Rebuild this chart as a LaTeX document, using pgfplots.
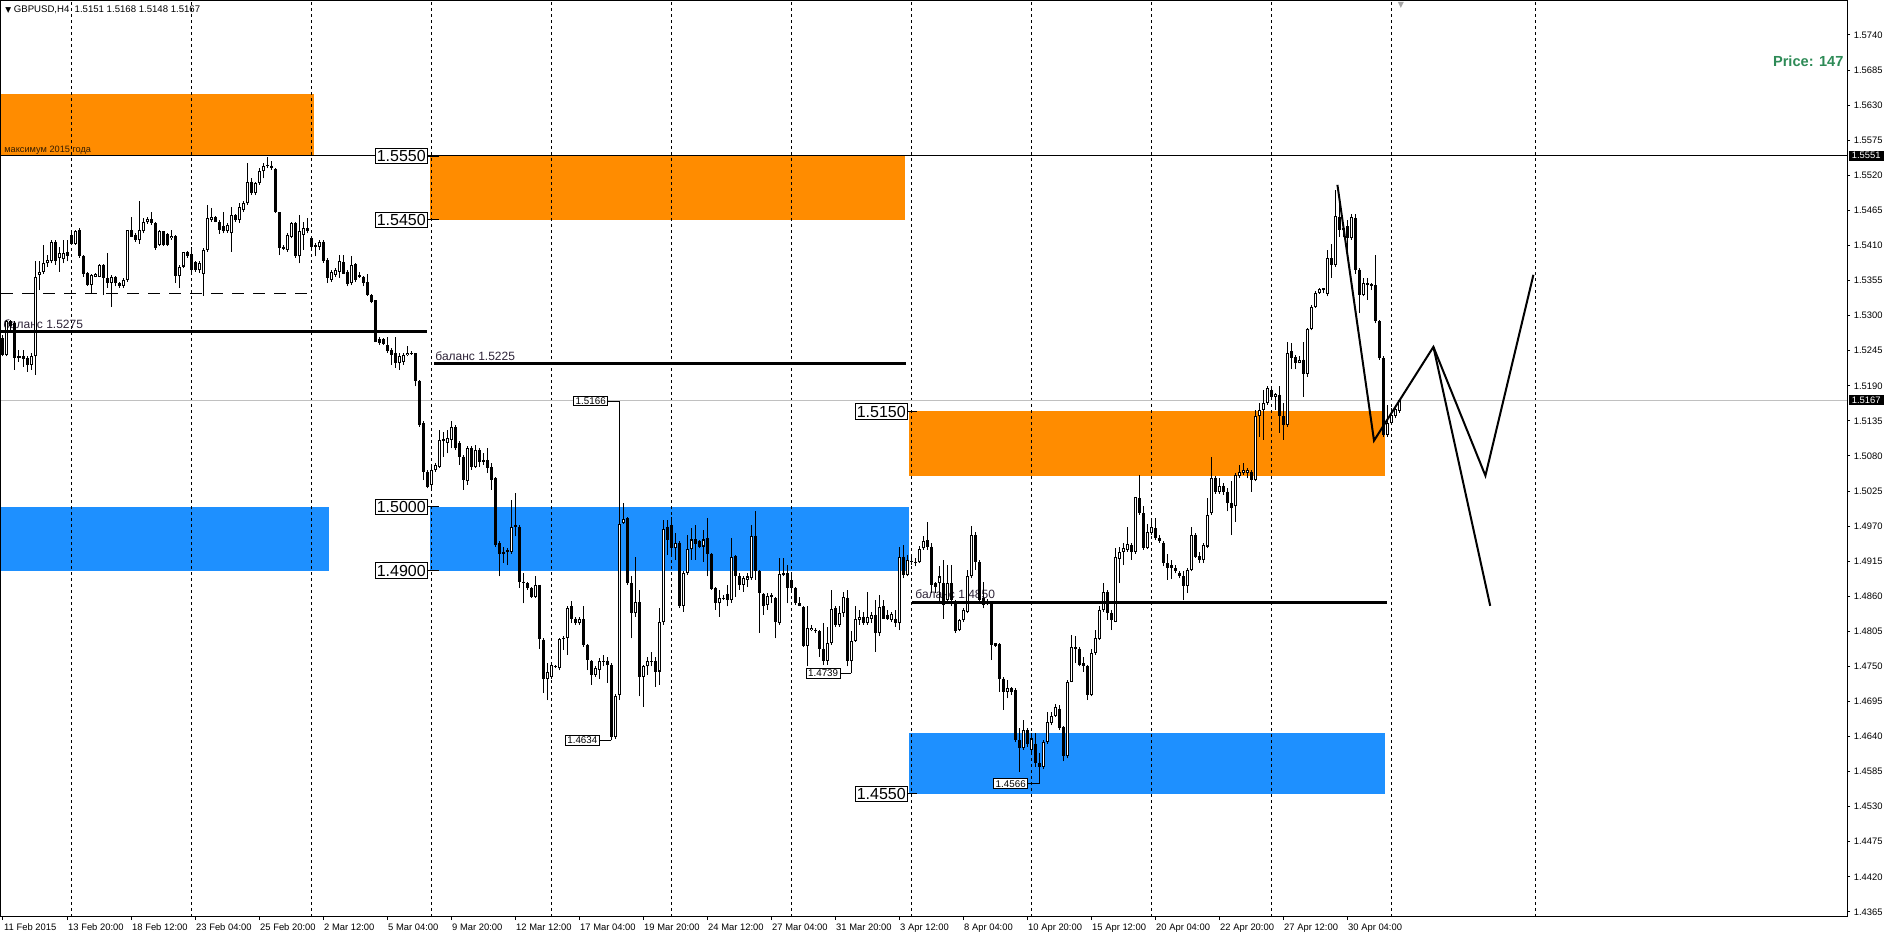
\documentclass[border=0pt]{standalone}
\usepackage{fontspec}
\setmainfont{Liberation Sans}
\newfontfamily\dejavu{DejaVu Sans}
\usepackage{pgfplots}
\usepackage{pgfplotstable}
\pgfplotsset{compat=1.18}
\definecolor{zoneorange}{RGB}{255,140,0}
\definecolor{zoneblue}{RGB}{30,144,255}
\definecolor{pricegreen}{RGB}{46,139,87}
\definecolor{baltext}{RGB}{45,35,55}
\definecolor{curgray}{RGB}{192,192,192}

\pgfplotstableread{
k o h l c
1 1.5265 1.5270 1.5236 1.5238
2 1.5238 1.5293 1.5236 1.5291
3 1.5291 1.5293 1.5275 1.5283
4 1.5288 1.5291 1.5215 1.5233
5 1.5233 1.5246 1.5228 1.5236
6 1.5236 1.5246 1.5220 1.5232
7 1.5233 1.5236 1.5212 1.5223
8 1.5223 1.5241 1.5215 1.5236
9 1.5236 1.5385 1.5207 1.5361
10 1.5364 1.5385 1.5340 1.5369
11 1.5369 1.5411 1.5366 1.5382
12 1.5382 1.5395 1.5377 1.5387
13 1.5385 1.5419 1.5382 1.5416
14 1.5416 1.5419 1.5380 1.5385
15 1.5390 1.5408 1.5369 1.5398
16 1.5388 1.5419 1.5382 1.5398
17 1.5400 1.5419 1.5385 1.5393
18 1.5427 1.5432 1.5412 1.5413
19 1.5413 1.5434 1.5411 1.5432
20 1.5434 1.5437 1.5391 1.5393
21 1.5394 1.5395 1.5361 1.5366
22 1.5367 1.5369 1.5347 1.5348
23 1.5348 1.5366 1.5335 1.5364
24 1.5361 1.5367 1.5360 1.5365
25 1.5361 1.5381 1.5360 1.5380
26 1.5380 1.5381 1.5332 1.5359
27 1.5359 1.5398 1.5343 1.5351
28 1.5351 1.5364 1.5314 1.5361
29 1.5361 1.5362 1.5346 1.5351
30 1.5351 1.5353 1.5343 1.5346
31 1.5347 1.5359 1.5343 1.5356
32 1.5356 1.5435 1.5353 1.5434
33 1.5434 1.5455 1.5423 1.5424
34 1.5427 1.5429 1.5416 1.5419
35 1.5419 1.5479 1.5413 1.5434
36 1.5432 1.5453 1.5429 1.5447
37 1.5446 1.5454 1.5444 1.5451
38 1.5451 1.5463 1.5442 1.5445
39 1.5445 1.5446 1.5403 1.5406
40 1.5411 1.5434 1.5409 1.5432
41 1.5432 1.5433 1.5409 1.5411
42 1.5428 1.5430 1.5409 1.5411
43 1.5421 1.5434 1.5419 1.5425
44 1.5425 1.5426 1.5351 1.5362
45 1.5362 1.5380 1.5343 1.5377
46 1.5377 1.5400 1.5374 1.5399
47 1.5399 1.5401 1.5391 1.5393
48 1.5396 1.5408 1.5366 1.5372
49 1.5384 1.5385 1.5369 1.5371
50 1.5371 1.5385 1.5367 1.5382
51 1.5365 1.5406 1.5331 1.5403
52 1.5403 1.5474 1.5400 1.5453
53 1.5450 1.5468 1.5447 1.5454
54 1.5454 1.5456 1.5446 1.5447
55 1.5447 1.5450 1.5428 1.5434
56 1.5440 1.5463 1.5429 1.5432
57 1.5432 1.5445 1.5430 1.5442
58 1.5429 1.5471 1.5400 1.5458
59 1.5458 1.5460 1.5447 1.5450
60 1.5450 1.5476 1.5445 1.5471
61 1.5466 1.5479 1.5463 1.5476
62 1.5476 1.5539 1.5474 1.5510
63 1.5510 1.5515 1.5489 1.5492
64 1.5492 1.5510 1.5489 1.5508
65 1.5508 1.5531 1.5505 1.5526
66 1.5526 1.5539 1.5515 1.5534
67 1.5534 1.5549 1.5531 1.5536
68 1.5535 1.5542 1.5529 1.5531
69 1.5530 1.5531 1.5461 1.5462
70 1.5462 1.5463 1.5395 1.5406
71 1.5408 1.5411 1.5403 1.5404
72 1.5403 1.5429 1.5400 1.5427
73 1.5424 1.5447 1.5421 1.5445
74 1.5445 1.5446 1.5391 1.5393
75 1.5393 1.5458 1.5382 1.5432
76 1.5427 1.5447 1.5403 1.5437
77 1.5437 1.5453 1.5429 1.5432
78 1.5421 1.5424 1.5406 1.5408
79 1.5411 1.5414 1.5393 1.5408
80 1.5408 1.5419 1.5403 1.5416
81 1.5416 1.5419 1.5383 1.5385
82 1.5387 1.5390 1.5351 1.5359
83 1.5356 1.5372 1.5353 1.5369
84 1.5364 1.5374 1.5361 1.5372
85 1.5369 1.5395 1.5359 1.5385
86 1.5384 1.5395 1.5365 1.5366
87 1.5369 1.5372 1.5346 1.5350
88 1.5351 1.5393 1.5348 1.5380
89 1.5381 1.5382 1.5353 1.5356
90 1.5364 1.5369 1.5359 1.5360
91 1.5361 1.5362 1.5346 1.5351
92 1.5352 1.5366 1.5331 1.5332
93 1.5332 1.5334 1.5319 1.5322
94 1.5324 1.5325 1.5258 1.5259
95 1.5263 1.5267 1.5254 1.5257
96 1.5263 1.5265 1.5254 1.5256
97 1.5254 1.5267 1.5241 1.5244
98 1.5246 1.5249 1.5223 1.5238
99 1.5241 1.5267 1.5218 1.5226
100 1.5226 1.5241 1.5215 1.5237
101 1.5228 1.5241 1.5223 1.5238
102 1.5238 1.5253 1.5236 1.5242
103 1.5241 1.5244 1.5239 1.5242
104 1.5241 1.5242 1.5189 1.5197
105 1.5198 1.5199 1.5126 1.5129
106 1.5131 1.5134 1.5042 1.5055
107 1.5055 1.5058 1.5029 1.5032
108 1.5035 1.5066 1.5027 1.5058
109 1.5058 1.5069 1.5055 1.5066
110 1.5063 1.5121 1.5061 1.5105
111 1.5103 1.5118 1.5079 1.5106
112 1.5101 1.5121 1.5084 1.5108
113 1.5105 1.5134 1.5092 1.5125
114 1.5125 1.5129 1.5089 1.5092
115 1.5100 1.5103 1.5066 1.5079
116 1.5079 1.5081 1.5027 1.5042
117 1.5040 1.5095 1.5035 1.5092
118 1.5092 1.5095 1.5058 1.5063
119 1.5063 1.5097 1.5061 1.5089
120 1.5089 1.5092 1.5063 1.5071
121 1.5071 1.5084 1.5066 1.5074
122 1.5073 1.5092 1.5053 1.5061
123 1.5063 1.5069 1.5027 1.5043
124 1.5045 1.5047 1.4938 1.4940
125 1.4943 1.4946 1.4891 1.4927
126 1.4930 1.4938 1.4912 1.4926
127 1.4930 1.4935 1.4909 1.4933
128 1.4930 1.5011 1.4927 1.4969
129 1.4972 1.5022 1.4954 1.4968
130 1.4969 1.4972 1.4873 1.4883
131 1.4883 1.4896 1.4849 1.4880
132 1.4880 1.4883 1.4870 1.4873
133 1.4873 1.4875 1.4857 1.4859
134 1.4859 1.4891 1.4857 1.4878
135 1.4878 1.4878 1.4778 1.4793
136 1.4792 1.4794 1.4708 1.4731
137 1.4731 1.4755 1.4697 1.4742
138 1.4734 1.4752 1.4731 1.4752
139 1.4751 1.4752 1.4747 1.4749
140 1.4747 1.4794 1.4744 1.4793
141 1.4793 1.4797 1.4776 1.4794
142 1.4794 1.4844 1.4768 1.4841
143 1.4844 1.4852 1.4818 1.4825
144 1.4825 1.4828 1.4815 1.4818
145 1.4818 1.4828 1.4815 1.4825
146 1.4824 1.4844 1.4781 1.4784
147 1.4784 1.4785 1.4744 1.4760
148 1.4759 1.4760 1.4721 1.4737
149 1.4737 1.4750 1.4734 1.4747
150 1.4744 1.4763 1.4731 1.4759
151 1.4759 1.4768 1.4750 1.4758
152 1.4759 1.4765 1.4724 1.4752
153 1.4752 1.4755 1.4634 1.4639
154 1.4639 1.4706 1.4636 1.4704
155 1.4705 1.5166 1.4697 1.4974
156 1.4975 1.5006 1.4974 1.4981
157 1.4982 1.4985 1.4878 1.4880
158 1.4881 1.4891 1.4794 1.4833
159 1.4833 1.4922 1.4828 1.4851
160 1.4851 1.4870 1.4703 1.4734
161 1.4734 1.4752 1.4687 1.4751
162 1.4750 1.4765 1.4737 1.4758
163 1.4757 1.4773 1.4750 1.4759
164 1.4759 1.4765 1.4718 1.4742
165 1.4742 1.4841 1.4721 1.4820
166 1.4819 1.4980 1.4815 1.4965
167 1.4969 1.4980 1.4925 1.4948
168 1.4972 1.4985 1.4925 1.4935
169 1.4935 1.4959 1.4917 1.4944
170 1.4944 1.4946 1.4841 1.4844
171 1.4845 1.4899 1.4836 1.4897
172 1.4897 1.4956 1.4893 1.4934
173 1.4934 1.4967 1.4917 1.4949
174 1.4949 1.4972 1.4917 1.4942
175 1.4946 1.4948 1.4935 1.4938
176 1.4938 1.4964 1.4914 1.4949
177 1.4951 1.4982 1.4891 1.4927
178 1.4927 1.4928 1.4870 1.4871
179 1.4873 1.4875 1.4839 1.4849
180 1.4849 1.4870 1.4828 1.4857
181 1.4857 1.4862 1.4854 1.4855
182 1.4864 1.4878 1.4844 1.4854
183 1.4854 1.4951 1.4850 1.4922
184 1.4923 1.4925 1.4859 1.4891
185 1.4892 1.4897 1.4870 1.4878
186 1.4878 1.4891 1.4867 1.4888
187 1.4886 1.4896 1.4875 1.4891
188 1.4888 1.4972 1.4886 1.4955
189 1.4955 1.4993 1.4886 1.4899
190 1.4899 1.4901 1.4803 1.4865
191 1.4864 1.4865 1.4831 1.4845
192 1.4846 1.4865 1.4839 1.4861
193 1.4859 1.4865 1.4849 1.4862
194 1.4857 1.4859 1.4794 1.4819
195 1.4818 1.4920 1.4815 1.4895
196 1.4893 1.4920 1.4891 1.4896
197 1.4896 1.4909 1.4849 1.4873
198 1.4885 1.4896 1.4870 1.4873
199 1.4873 1.4875 1.4846 1.4849
200 1.4849 1.4859 1.4844 1.4844
201 1.4843 1.4844 1.4781 1.4782
202 1.4782 1.4844 1.4750 1.4811
203 1.4807 1.4815 1.4805 1.4811
204 1.4805 1.4810 1.4802 1.4807
205 1.4805 1.4807 1.4765 1.4778
206 1.4778 1.4818 1.4752 1.4759
207 1.4759 1.4812 1.4752 1.4786
208 1.4786 1.4870 1.4784 1.4840
209 1.4841 1.4844 1.4812 1.4815
210 1.4815 1.4844 1.4812 1.4833
211 1.4833 1.4867 1.4828 1.4859
212 1.4858 1.4870 1.4750 1.4758
213 1.4758 1.4805 1.4739 1.4790
214 1.4790 1.4845 1.4789 1.4825
215 1.4823 1.4839 1.4815 1.4828
216 1.4828 1.4836 1.4815 1.4818
217 1.4818 1.4867 1.4815 1.4828
218 1.4825 1.4836 1.4818 1.4831
219 1.4831 1.4854 1.4773 1.4803
220 1.4803 1.4862 1.4797 1.4843
221 1.4844 1.4854 1.4824 1.4825
222 1.4831 1.4838 1.4823 1.4825
223 1.4823 1.4836 1.4820 1.4832
224 1.4825 1.4838 1.4812 1.4818
225 1.4818 1.4938 1.4807 1.4922
226 1.4922 1.4940 1.4888 1.4893
227 1.4893 1.4925 1.4891 1.4917
228 1.4916 1.4922 1.4909 1.4914
229 1.4914 1.4920 1.4907 1.4913
230 1.4913 1.4939 1.4912 1.4934
231 1.4935 1.4954 1.4933 1.4946
232 1.4948 1.4977 1.4933 1.4938
233 1.4938 1.4943 1.4865 1.4878
234 1.4880 1.4883 1.4865 1.4875
235 1.4881 1.4907 1.4849 1.4891
236 1.4880 1.4917 1.4825 1.4846
237 1.4854 1.4909 1.4849 1.4881
238 1.4881 1.4909 1.4844 1.4854
239 1.4852 1.4854 1.4802 1.4805
240 1.4807 1.4825 1.4805 1.4823
241 1.4823 1.4841 1.4820 1.4839
242 1.4836 1.4901 1.4833 1.4892
243 1.4891 1.4970 1.4888 1.4956
244 1.4956 1.4961 1.4901 1.4914
245 1.4914 1.4917 1.4849 1.4854
246 1.4857 1.4883 1.4841 1.4846
247 1.4849 1.4855 1.4846 1.4848
248 1.4848 1.4849 1.4760 1.4784
249 1.4786 1.4787 1.4781 1.4782
250 1.4785 1.4786 1.4710 1.4731
251 1.4731 1.4734 1.4682 1.4710
252 1.4710 1.4729 1.4700 1.4716
253 1.4716 1.4718 1.4705 1.4710
254 1.4713 1.4716 1.4632 1.4635
255 1.4635 1.4653 1.4585 1.4622
256 1.4622 1.4666 1.4619 1.4650
257 1.4650 1.4653 1.4624 1.4629
258 1.4619 1.4645 1.4616 1.4637
259 1.4629 1.4645 1.4593 1.4598
260 1.4598 1.4614 1.4566 1.4593
261 1.4593 1.4635 1.4589 1.4632
262 1.4632 1.4679 1.4629 1.4663
263 1.4662 1.4679 1.4658 1.4672
264 1.4672 1.4691 1.4671 1.4687
265 1.4684 1.4690 1.4650 1.4653
266 1.4655 1.4656 1.4601 1.4609
267 1.4609 1.4729 1.4606 1.4726
268 1.4726 1.4799 1.4725 1.4780
269 1.4780 1.4798 1.4755 1.4778
270 1.4778 1.4781 1.4750 1.4752
271 1.4755 1.4765 1.4742 1.4750
272 1.4751 1.4752 1.4697 1.4705
273 1.4705 1.4778 1.4703 1.4771
274 1.4771 1.4807 1.4768 1.4794
275 1.4793 1.4844 1.4792 1.4839
276 1.4839 1.4880 1.4836 1.4866
277 1.4867 1.4870 1.4823 1.4833
278 1.4834 1.4839 1.4807 1.4822
279 1.4820 1.4935 1.4819 1.4922
280 1.4918 1.4938 1.4880 1.4930
281 1.4930 1.4943 1.4909 1.4935
282 1.4933 1.4969 1.4930 1.4942
283 1.4940 1.4943 1.4917 1.4930
284 1.4930 1.5016 1.4927 1.5015
285 1.5014 1.5050 1.4988 1.4990
286 1.4990 1.5002 1.4933 1.4935
287 1.4935 1.4974 1.4934 1.4961
288 1.4959 1.4982 1.4956 1.4969
289 1.4967 1.4982 1.4948 1.4951
290 1.4952 1.4956 1.4944 1.4946
291 1.4944 1.4946 1.4907 1.4912
292 1.4912 1.4927 1.4886 1.4904
293 1.4909 1.4917 1.4887 1.4904
294 1.4904 1.4909 1.4896 1.4899
295 1.4897 1.4899 1.4888 1.4891
296 1.4891 1.4899 1.4854 1.4876
297 1.4876 1.4904 1.4865 1.4901
298 1.4901 1.4969 1.4899 1.4956
299 1.4956 1.4959 1.4920 1.4922
300 1.4923 1.4930 1.4912 1.4917
301 1.4917 1.4943 1.4912 1.4940
302 1.4938 1.5014 1.4935 1.4988
303 1.4990 1.5079 1.4988 1.5045
304 1.5045 1.5048 1.5021 1.5024
305 1.5024 1.5045 1.5021 1.5033
306 1.5033 1.5037 1.5019 1.5024
307 1.5024 1.5029 1.4993 1.5006
308 1.5006 1.5040 1.4956 1.4998
309 1.5001 1.5053 1.4977 1.5050
310 1.5048 1.5066 1.5045 1.5055
311 1.5053 1.5069 1.5050 1.5058
312 1.5054 1.5061 1.5045 1.5058
313 1.5055 1.5058 1.5024 1.5042
314 1.5042 1.5152 1.5040 1.5142
315 1.5142 1.5163 1.5110 1.5152
316 1.5152 1.5183 1.5105 1.5163
317 1.5163 1.5189 1.5160 1.5186
318 1.5183 1.5186 1.5168 1.5173
319 1.5173 1.5178 1.5152 1.5177
320 1.5176 1.5189 1.5116 1.5142
321 1.5142 1.5163 1.5105 1.5129
322 1.5129 1.5259 1.5126 1.5242
323 1.5244 1.5257 1.5217 1.5233
324 1.5235 1.5238 1.5216 1.5226
325 1.5226 1.5236 1.5225 1.5231
326 1.5231 1.5259 1.5173 1.5209
327 1.5209 1.5280 1.5204 1.5279
328 1.5279 1.5317 1.5277 1.5314
329 1.5314 1.5338 1.5312 1.5336
330 1.5335 1.5343 1.5334 1.5341
331 1.5340 1.5344 1.5335 1.5343
332 1.5334 1.5403 1.5330 1.5390
333 1.5390 1.5413 1.5359 1.5379
334 1.5379 1.5497 1.5377 1.5456
335 1.5455 1.5476 1.5424 1.5434
336 1.5434 1.5442 1.5424 1.5437
337 1.5440 1.5450 1.5400 1.5421
338 1.5421 1.5460 1.5419 1.5455
339 1.5453 1.5460 1.5366 1.5372
340 1.5372 1.5374 1.5304 1.5332
341 1.5332 1.5359 1.5330 1.5351
342 1.5348 1.5359 1.5325 1.5351
343 1.5349 1.5351 1.5340 1.5346
344 1.5348 1.5395 1.5288 1.5291
345 1.5291 1.5293 1.5231 1.5233
346 1.5233 1.5236 1.5110 1.5113
347 1.5113 1.5160 1.5110 1.5131
348 1.5131 1.5155 1.5129 1.5144
349 1.5142 1.5160 1.5139 1.5153
350 1.5151 1.5168 1.5148 1.5167
}\candles

\begin{document}
\begin{tikzpicture}[x=1pt,y=1pt]
\fill[white] (0,0) rectangle (944.5,467.5);
\path[use as bounding box] (0,0) rectangle (944.5,467.5);
\begin{axis}[
  at={(0.5pt,9pt)}, anchor=south west,
  scale only axis, width=923pt, height=458pt,
  xmin=0.5, xmax=462, ymin=1.435712, ymax=1.579331,
  clip=false,
  axis line style={black, line width=0.5pt},
  ytick pos=right, yticklabel pos=right,
  xtick pos=left,
  tick align=outside,
  major tick length=1.6pt,
  minor tick num=0,
  tick style={black, line width=0.5pt},
  scaled y ticks=false,
  /pgf/number format/assume math mode=true,
  ytick={1.4365,1.4420,1.4475,1.4530,1.4585,1.4640,1.4695,1.4750,1.4805,1.4860,1.4915,1.4970,1.5025,1.5080,1.5135,1.5190,1.5245,1.5300,1.5355,1.5410,1.5465,1.5520,1.5575,1.5630,1.5685,1.5740},
  yticklabel style={font=\fontsize{4.7}{5}\selectfont, /pgf/number format/fixed, /pgf/number format/fixed zerofill, /pgf/number format/precision=4, inner sep=1pt, xshift=0.6pt},
  xtick={1,17,33,49,65,81,97,113,129,145,161,177,193,209,225,241,257,273,289,305,321,337},
  xticklabels={11 Feb 2015,13 Feb 20:00,18 Feb 12:00,23 Feb 04:00,25 Feb 20:00,2 Mar 12:00,5 Mar 04:00,9 Mar 20:00,12 Mar 12:00,17 Mar 04:00,19 Mar 20:00,24 Mar 12:00,27 Mar 04:00,31 Mar 20:00,3 Apr 12:00,8 Apr 04:00,10 Apr 20:00,15 Apr 12:00,20 Apr 04:00,22 Apr 20:00,27 Apr 12:00,30 Apr 04:00},
  xticklabel style={font=\fontsize{4.7}{5}\selectfont, anchor=north west, inner sep=0pt, xshift=0.4pt, yshift=-1.6pt},
]
% zones
\addplot[fill=zoneorange, draw=none, forget plot] coordinates {(0.5,1.5550) (78.75,1.5550) (78.75,1.5648) (0.5,1.5648)};
\addplot[fill=zoneblue, draw=none, forget plot] coordinates {(0.5,1.4900) (82.5,1.4900) (82.5,1.5000) (0.5,1.5000)};
\addplot[fill=zoneorange, draw=none, forget plot] coordinates {(107.75,1.5450) (226.4,1.5450) (226.4,1.5550) (107.75,1.5550)};
\addplot[fill=zoneblue, draw=none, forget plot] coordinates {(107.75,1.4900) (227.6,1.4900) (227.6,1.5000) (107.75,1.5000)};
\addplot[fill=zoneorange, draw=none, forget plot] coordinates {(227.6,1.5048) (346.6,1.5048) (346.6,1.5150) (227.6,1.5150)};
\addplot[fill=zoneblue, draw=none, forget plot] coordinates {(227.6,1.4550) (346.6,1.4550) (346.6,1.4646) (227.6,1.4646)};
% weekly grid
\pgfplotsinvokeforeach{18,48,78,108,138,168,198,228,258,288,318,348,384}{
  \addplot[black, line width=0.5pt, dash pattern=on 1.5pt off 1.5pt, forget plot] coordinates {(#1,1.435712) (#1,1.579331)};
}
% current price line
\addplot[curgray, line width=0.5pt, forget plot] coordinates {(0.5,1.5167) (462,1.5167)};
% texts under candles
\node[anchor=base west, inner sep=0pt, text=baltext, font=\fontsize{6}{7}\selectfont] at (axis cs:1,1.5280) {баланс 1.5275};
\node[anchor=base west, inner sep=0pt, text=baltext, font=\fontsize{6}{7}\selectfont] at (axis cs:109,1.5230) {баланс 1.5225};
\node[anchor=base west, inner sep=0pt, text=baltext, font=\fontsize{6}{7}\selectfont] at (axis cs:229,1.4856) {баланс 1.4850};
\node[anchor=base west, inner sep=0pt, text=black!80!zoneorange, font=\fontsize{4.6}{5}\selectfont] at (axis cs:1.25,1.5555) {максимум 2015 года};
% candles: wicks, bodies, white interiors
\addplot[black, line width=0.5pt, forget plot, quiver={u=0, v=\thisrow{h}-\thisrow{l}}] table[x=k, y=l] {\candles};
\addplot[black, line width=1.5pt, forget plot, quiver={u=0, v=\thisrow{c}-\thisrow{o}}] table[x=k, y=o] {\candles};
\addplot[white, line width=0.5pt, forget plot, quiver={u=0, v={max(\thisrow{c}-\thisrow{o}-0.00032,0)}}] table[x=k, y expr=\thisrow{o}+0.00016] {\candles};
% horizontal objects
\addplot[black, line width=0.5pt, forget plot] coordinates {(0.5,1.5551) (462,1.5551)};
\addplot[black, line width=0.5pt, dash pattern=on 6pt off 4.5pt, forget plot] coordinates {(0.5,1.5335) (77,1.5335)};
\addplot[black, line width=1.4pt, forget plot] coordinates {(0.5,1.5275) (107,1.5275)};
\addplot[black, line width=1.4pt, forget plot] coordinates {(108.75,1.5225) (226.75,1.5225)};
\addplot[black, line width=1.4pt, forget plot] coordinates {(228.25,1.4850) (347,1.4850)};
% forecast zigzag
\addplot[black, line width=1pt, forget plot] coordinates {(334.6,1.5505) (343.75,1.5104) (358.6,1.5251) (371.6,1.5049) (383.6,1.5364)};
\addplot[black, line width=1pt, forget plot] coordinates {(358.6,1.5251) (372.8,1.4845)};
% level connectors
\addplot[black, line width=0.5pt, forget plot] coordinates {(107,1.5550) (110,1.5550)};
\addplot[black, line width=0.5pt, forget plot] coordinates {(107,1.5450) (110,1.5450)};
\addplot[black, line width=0.5pt, forget plot] coordinates {(107,1.5000) (110,1.5000)};
\addplot[black, line width=0.5pt, forget plot] coordinates {(107,1.4900) (110,1.4900)};
\addplot[black, line width=0.5pt, forget plot] coordinates {(227,1.5150) (229.5,1.5150)};
\addplot[black, line width=0.5pt, forget plot] coordinates {(227,1.4550) (229.5,1.4550)};
\addplot[black, line width=0.5pt, forget plot] coordinates {(152.3,1.5166) (155,1.5166)};
\addplot[black, line width=0.5pt, forget plot] coordinates {(150.2,1.4634) (153,1.4634)};
\addplot[black, line width=0.5pt, forget plot] coordinates {(210.4,1.4739) (213,1.4739)};
\addplot[black, line width=0.5pt, forget plot] coordinates {(257.3,1.4566) (260,1.4566)};
% level boxes
\tikzset{lvl/.style={draw=black, line width=0.5pt, fill=white, anchor=east, inner xsep=0.8pt, inner ysep=1pt, text height=5.8pt, text depth=0pt, font=\fontsize{8}{9}\selectfont},
         sml/.style={draw=black, line width=0.5pt, fill=white, anchor=east, inner xsep=1pt, inner ysep=0.7pt, text height=3.5pt, text depth=0pt, font=\fontsize{4.9}{5}\selectfont}}
\node[lvl] at (axis cs:107.2,1.5550) {1.5550};
\node[lvl] at (axis cs:107.2,1.5450) {1.5450};
\node[lvl] at (axis cs:107.2,1.5000) {1.5000};
\node[lvl] at (axis cs:107.2,1.4900) {1.4900};
\node[lvl] at (axis cs:227.2,1.5150) {1.5150};
\node[lvl] at (axis cs:227.2,1.4550) {1.4550};
\node[sml] at (axis cs:152.3,1.5166) {1.5166};
\node[sml] at (axis cs:150.2,1.4634) {1.4634};
\node[sml] at (axis cs:210.4,1.4739) {1.4739};
\node[sml] at (axis cs:257.3,1.4566) {1.4566};
% right axis price boxes
\node[fill=black, text=white, anchor=west, inner xsep=1.6pt, inner ysep=0.8pt, text height=3.4pt, text depth=0pt, font=\fontsize{4.7}{5}\selectfont] at (axis cs:462.3,1.5551) {1.5551};
\node[fill=black, text=white, anchor=west, inner xsep=1.6pt, inner ysep=0.8pt, text height=3.4pt, text depth=0pt, font=\fontsize{4.7}{5}\selectfont] at (axis cs:462.3,1.5167) {1.5167};
% header and info
\node[anchor=west, inner sep=0pt, font=\fontsize{4.8}{5}\selectfont] at (axis cs:1.5,1.5780) {{\dejavu\fontsize{3.8}{4}\selectfont ▼}\ GBPUSD,H4\ \ 1.5151 1.5168 1.5148 1.5167};
\node[anchor=east, inner sep=0pt, text=pricegreen, font=\bfseries\fontsize{7.3}{8}\selectfont] at (axis cs:461.2,1.5698) {Price: 147};
\node[anchor=north, inner sep=0pt, text=gray!70, font=\dejavu\fontsize{4}{4}\selectfont] at (axis cs:350.5,1.5792) {▼};
\end{axis}
\end{tikzpicture}
\end{document}
